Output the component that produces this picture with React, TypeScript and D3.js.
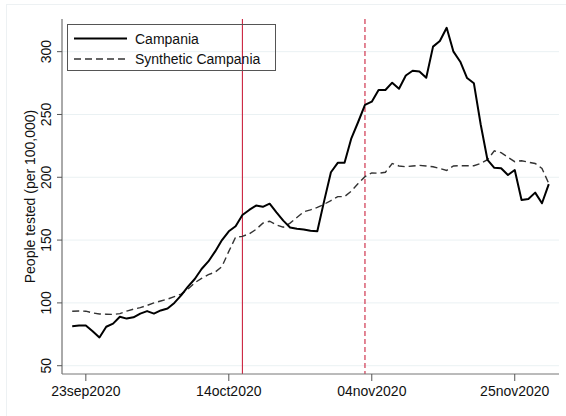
import * as d3 from "d3";

// daily observations, 21sep2020 .. 30nov2020
const firstDay = new Date(Date.UTC(2020, 8, 21));

const campania = [
  81.5, 82, 82, 77.5, 72.5, 81, 83.5, 89, 87.5, 88.5,
  91.5, 93.5, 91.5, 94, 95.5, 100, 106, 113, 119, 127,
  133, 141, 150, 157, 161, 170, 174, 177.5, 176.5, 179,
  172, 165.5, 160, 159, 158.5, 157.5, 157, 181, 204, 211.5,
  211.5, 231, 244, 257.6, 260.2, 269.5, 269.5, 275.3, 270.5, 281,
  284.8, 284.2, 279.2, 304, 308.5, 319, 300, 292, 279, 274.8,
  242, 213.8, 207.5, 207.2, 201.8, 205.8, 181.9, 182.7, 187.8, 179.3,
  194.5,
];

const synthetic = [
  93.4, 93.5, 93.4, 92, 91.2, 91, 90.8, 91.5, 93.5, 95,
  96.2, 98, 100, 101.5, 103, 105, 107, 111, 116, 119.5,
  122.5, 124.5, 129, 141, 152.3, 153, 155, 158.5, 163.5, 165,
  162, 160.2, 163.5, 168, 172.5, 174, 176, 178.5, 181.5, 184.6,
  184.6, 189, 195, 200.5, 203.5, 203.2, 204, 211, 209, 208.4,
  209, 209.5, 209, 208.4, 207, 205.5, 209, 209.2, 209.2, 209.2,
  211, 214, 221, 219.6, 216, 212.4, 213.2, 212, 211, 207,
  195,
];

const xTickDates = [
  new Date(Date.UTC(2020, 8, 23)),
  new Date(Date.UTC(2020, 9, 14)),
  new Date(Date.UTC(2020, 10, 4)),
  new Date(Date.UTC(2020, 10, 25)),
];
const yTicks = [50, 100, 150, 200, 250, 300];
const eventSolid = new Date(Date.UTC(2020, 9, 16));
const eventDashed = new Date(Date.UTC(2020, 10, 3));
const legendLabels = ["Campania", "Synthetic Campania"];

const W = 566;
const H = 416;
const plot = { left: 62, right: 559, top: 19, bottom: 374 };
const font = "'Liberation Sans', Arial, Helvetica, sans-serif";
const red = "#cc2440";

const fmt = d3.utcFormat("%d%b%Y");

export default function App() {
  const dates = campania.map((_, i) => d3.utcDay.offset(firstDay, i));

  const x = d3
    .scaleUtc()
    .domain([new Date(Date.UTC(2020, 8, 19, 12)), new Date(Date.UTC(2020, 11, 1, 12))])
    .range([plot.left, plot.right]);
  const y = d3.scaleLinear().domain([43.4, 326]).range([plot.bottom, plot.top]);

  const line = d3
    .line<number>()
    .x((_, i) => x(dates[i]))
    .y(d => y(d));

  return (
    <svg
      width={W}
      height={H}
      style={{ position: "absolute", left: 0, top: 0, background: "#fff" }}
      fontFamily={font}
    >
      <rect x={6.5} y={4.5} width={W} height={H} fill="none" stroke="#edf1f3" />

      {yTicks.map(t => (
        <line
          key={"g" + t}
          x1={plot.left}
          x2={plot.right}
          y1={y(t)}
          y2={y(t)}
          stroke="#eaf1f3"
          strokeWidth={1}
        />
      ))}

      <line x1={x(eventSolid)} x2={x(eventSolid)} y1={plot.top} y2={plot.bottom} stroke={red} strokeWidth={1.1} />
      <line
        x1={x(eventDashed)}
        x2={x(eventDashed)}
        y1={plot.top}
        y2={plot.bottom}
        stroke={red}
        strokeWidth={1.1}
        strokeDasharray="5 3"
      />

      <path d={line(synthetic) ?? ""} fill="none" stroke="#333" strokeWidth={1.4} strokeDasharray="7 4" />
      <path d={line(campania) ?? ""} fill="none" stroke="#000" strokeWidth={2} strokeLinejoin="round" />

      {/* axes */}
      <line x1={plot.left} x2={plot.left} y1={plot.top} y2={plot.bottom} stroke="#555" />
      <line x1={plot.left} x2={plot.right} y1={plot.bottom} y2={plot.bottom} stroke="#777" />

      {yTicks.map(t => (
        <g key={"y" + t}>
          <line x1={plot.left - 5} x2={plot.left} y1={y(t)} y2={y(t)} stroke="#555" />
          <text
            transform={`translate(51,${y(t)}) rotate(-90)`}
            textAnchor="middle"
            fontSize={14}
            fill="#111"
          >
            {t}
          </text>
        </g>
      ))}

      {xTickDates.map(d => (
        <g key={"x" + d.getTime()}>
          <line x1={x(d)} x2={x(d)} y1={plot.bottom} y2={plot.bottom + 7} stroke="#555" />
          <text x={x(d)} y={396} textAnchor="middle" fontSize={14} fill="#111">
            {fmt(d).toLowerCase()}
          </text>
        </g>
      ))}

      <text
        transform={`translate(35,${(plot.top + plot.bottom) / 2}) rotate(-90)`}
        textAnchor="middle"
        fontSize={14}
        fill="#111"
      >
        People tested (per 100,000)
      </text>

      {/* legend */}
      <rect x={67.5} y={24.5} width={208} height={46} fill="none" stroke="#555" />
      <line x1={74} x2={127} y1={38.5} y2={38.5} stroke="#000" strokeWidth={2} />
      <line x1={74} x2={127} y1={59} y2={59} stroke="#333" strokeWidth={1.4} strokeDasharray="7 4" />
      <text x={135} y={43.5} fontSize={14} fill="#111">
        {legendLabels[0]}
      </text>
      <text x={135} y={64} fontSize={14} fill="#111">
        {legendLabels[1]}
      </text>
    </svg>
  );
}
